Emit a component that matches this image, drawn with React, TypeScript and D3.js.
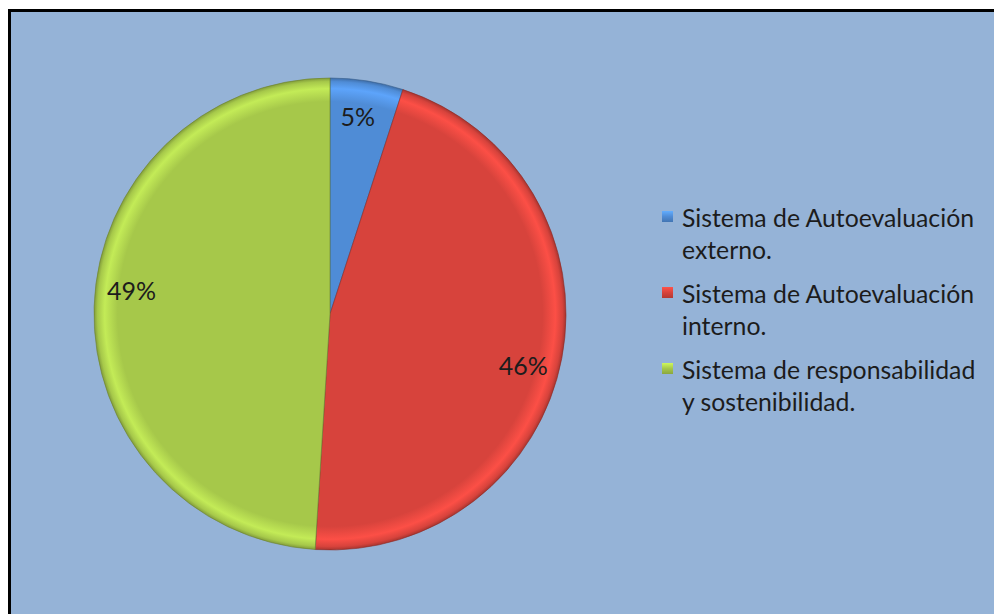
import React from "react";
import * as d3 from "d3";

const categories = [
  ["Sistema de Autoevaluación", "externo."],
  ["Sistema de Autoevaluación", "interno."],
  ["Sistema de responsabilidad", "y sostenibilidad."],
];
const values = [5, 46, 49];
const labels = ["5%", "46%", "49%"];
const colors = ["#4F8CD6", "#D7433C", "#A6C84A"];

const W = 994;
const H = 614;
const cx = 330;
const cy = 314;
const R = 236;
const FONT = "Lato, 'Open Sans', sans-serif";
const labelR = 200;
const labelAngleNudge = [-1, 4, 5]; // degrees, mimics Excel best-fit placement

export default function App() {
  const pie = d3.pie<number>().sort(null).value((d) => d);
  const arcs = pie(values);
  const arc = d3.arc<d3.PieArcDatum<number>>().innerRadius(0).outerRadius(R);

  return (
    <svg
      width={W}
      height={H}
      style={{ position: "absolute", left: 0, top: 0, background: "#fff" }}
      fontFamily={FONT}
    >
      <defs>
        {colors.map((c, i) => {
          const base = d3.color(c)!.formatHex();
          const light = d3.color(c)!.brighter(0.45).formatHex();
          const dark = d3.color(c)!.darker(0.7).formatHex();
          return (
            <radialGradient key={i} id={`g${i}`} cx={0} cy={0} r={R} gradientUnits="userSpaceOnUse">
              <stop offset="0" stopColor={base} />
              <stop offset="0.9" stopColor={base} />
              <stop offset="0.955" stopColor={light} />
              <stop offset="0.985" stopColor={base} />
              <stop offset="1" stopColor={dark} />
            </radialGradient>
          );
        })}
        {colors.map((c, i) => (
          <linearGradient key={i} id={`m${i}`} x1="0" y1="0" x2="0" y2="1">
            <stop offset="0" stopColor={d3.color(c)!.brighter(0.6).formatHex()} />
            <stop offset="0.5" stopColor={c} />
            <stop offset="1" stopColor={d3.color(c)!.darker(0.5).formatHex()} />
          </linearGradient>
        ))}
      </defs>
      <rect x={9.5} y={10.5} width={1000} height={700} fill="#95B3D7" stroke="#000" strokeWidth={3} />
      <g transform={`translate(${cx},${cy})`}>
        {arcs.map((a, i) => (
          <path
            key={i}
            d={arc(a)!}
            fill={`url(#g${i})`}
            stroke={d3.color(colors[i])!.darker(1.2).formatHex()}
            strokeOpacity={0.6}
            strokeWidth={1}
          />
        ))}
        {arcs.map((a, i) => {
          const ang = (a.startAngle + a.endAngle) / 2 + (labelAngleNudge[i] * Math.PI) / 180;
          const x = labelR * Math.sin(ang);
          const y = -labelR * Math.cos(ang);
          return (
            <text
              key={i}
              x={x}
              y={y}
              textAnchor="middle"
              dominantBaseline="central"
              fontSize={25}
              fill="#1c1c1c"
            >
              {labels[i]}
            </text>
          );
        })}
      </g>
      <g>
        {categories.map((lines, i) => {
          const y0 = 227 + i * 76;
          return (
            <g key={i}>
              <rect x={662} y={y0 - 16} width={11} height={11} fill={`url(#m${i})`} />
              {lines.map((t, j) => (
                <text key={j} x={682} y={y0 + j * 32} fontSize={24.8} fill="#1c1c1c">
                  {t}
                </text>
              ))}
            </g>
          );
        })}
      </g>
    </svg>
  );
}
